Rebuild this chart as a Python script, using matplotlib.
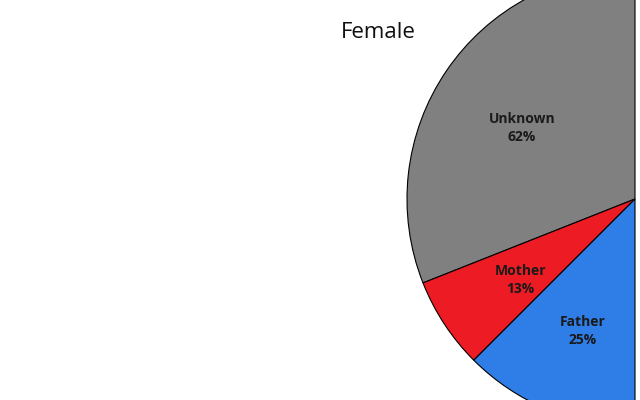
import matplotlib
matplotlib.use("Agg")
import matplotlib.pyplot as plt
import matplotlib.transforms as mtransforms
import numpy as np

# -- Data ----------------------------------------------------------------------
categories = ["Unknown", "Mother", "Father"]
values = [62, 13, 25]
colors = ["#808080", "#ed1c24", "#2f7de6"]
title = "Female"

# -- Layout (pixels) -------------------------------------------------------------
_W, _H = 640, 400
_CX, _CY, _R = 635, 199, 228

plt.rcParams["font.family"] = ["Open Sans", "DejaVu Sans"]

fig = plt.figure(figsize=(_W / 100, _H / 100), dpi=100)
ax = fig.add_axes([
    (_CX - _R) / _W,
    (_H - _CY - _R) / _H,
    2 * _R / _W,
    2 * _R / _H,
])

# half pie: the data fill the left half, a hidden wedge takes the other half
total = sum(values)
wedges, _ = ax.pie(
    values + [total],
    colors=colors + ["none"],
    startangle=90,
    counterclock=True,
    radius=1.0,
    wedgeprops=dict(edgecolor="black", linewidth=0.8),
)
wedges[-1].set_visible(False)

label_tr = mtransforms.offset_copy(ax.transData, fig=fig, x=0, y=-4, units="points")
for w, name, v in zip(wedges[:-1], categories, values):
    mid = np.deg2rad((w.theta1 + w.theta2) / 2)
    ax.text(
        0.6 * np.cos(mid),
        0.6 * np.sin(mid),
        f"{name}\n{v / total * 100:.0f}%",
        ha="center",
        va="center",
        fontsize=10,
        fontweight="bold",
        color="#1a1a1a",
        linespacing=1.35,
        transform=label_tr,
    )

ax.set_xlim(-1, 1)
ax.set_ylim(-1, 1)
ax.set_aspect("equal")
ax.axis("off")

fig.text(378 / _W, 1 - 32 / _H, title, ha="center", va="center", fontsize=16, color="#111111")

fig.savefig("out.png", dpi=100)
